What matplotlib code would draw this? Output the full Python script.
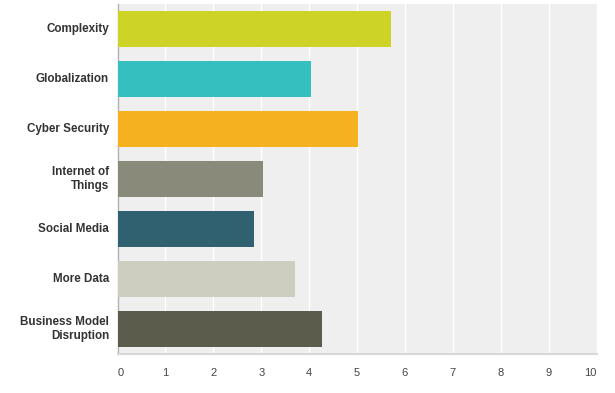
import matplotlib
matplotlib.use("Agg")
import matplotlib.pyplot as plt
import matplotlib.transforms as mtransforms

categories = ["Complexity", "Globalization", "Cyber Security", "Internet of\nThings",
              "Social Media", "More Data", "Business Model\nDisruption"]
values = [5.70, 4.04, 5.02, 3.04, 2.85, 3.71, 4.26]
colors = ["#cdd427", "#35bfbe", "#f6b120", "#8a8a7a", "#2f6170", "#cdcec0", "#5c5c4c"]
xticks = list(range(0, 11))
xticklabels = [str(t) for t in xticks]

fig = plt.figure(figsize=(6.15, 3.93), dpi=100)
W, H = 615, 393
ax = fig.add_axes([117.5 / W, 1 - 354 / H, (596.5 - 117.5) / W, (354 - 4) / H])
ax.set_facecolor("#efefef")

ypos = list(range(len(categories)))
ax.barh(ypos, values, height=0.72, color=colors, zorder=3)
ax.set_ylim(len(categories) - 0.5, -0.5)
ax.set_xlim(0, 10)

ax.set_xticks(xticks)
ax.xaxis.grid(True, color="white", linewidth=1, zorder=1)
ax.set_axisbelow(True)
ax.tick_params(axis="x", length=0, pad=10, labelsize=8, labelcolor="#444444")
ax.set_xticklabels(xticklabels)
labels = ax.get_xticklabels()
labels[0].set_ha("left")
labels[-1].set_ha("right")
for lab in labels:
    lab.set_family("Liberation Sans")

ax.set_yticks(ypos)
ax.set_yticklabels([])
ax.tick_params(axis="y", length=0)
trans = mtransforms.blended_transform_factory(ax.transAxes, ax.transData) + \
    mtransforms.ScaledTranslation(-8.5 / 100, 0, fig.dpi_scale_trans)
for y, cat in zip(ypos, categories):
    ax.text(0, y, cat, transform=trans, ha="right", va="center", multialignment="right",
            fontsize=8.4, fontweight="bold", color="#333333", family="Liberation Sans",
            linespacing=1.15)

for s in ["top", "right"]:
    ax.spines[s].set_visible(False)
ax.spines["left"].set_color("#b0b0b0")
ax.spines["left"].set_linewidth(1)
ax.spines["bottom"].set_color("#d8d8d8")
ax.spines["bottom"].set_linewidth(1.5)

fig.savefig("out.png", dpi=100, facecolor="white")
